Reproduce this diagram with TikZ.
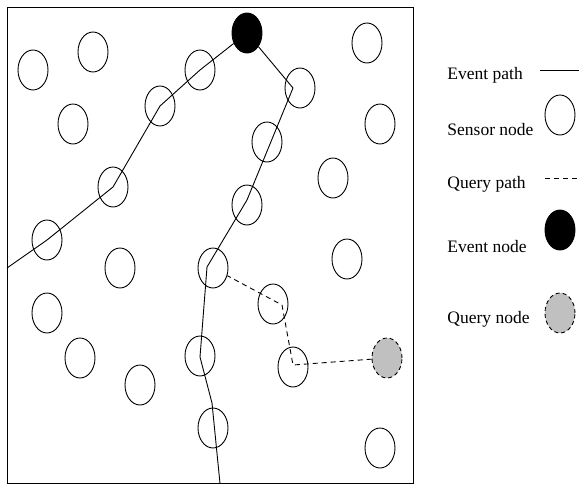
\documentclass[tikz,border=0pt]{standalone}
\usepackage{fontspec}
\setmainfont{Liberation Serif}
\usetikzlibrary{shapes.geometric}
\begin{document}
\begin{tikzpicture}[x=1pt,y=-1pt,line width=0.9pt,
  sensor/.style={ellipse,draw,minimum width=30pt,minimum height=40pt,inner sep=0pt},
  eventnode/.style={sensor,fill=black},
  querynode/.style={sensor,fill={rgb,255:red,192;green,192;blue,192},dash pattern=on 4pt off 3pt},
  epath/.style={draw,line width=0.9pt},
  qpath/.style={draw,dash pattern=on 5pt off 4pt},
  lbl/.style={anchor=base west,inner sep=0pt,font=\fontsize{17.5}{20}\selectfont}]
\useasboundingbox (0,0) rectangle (579,485);
\draw (7,7) rectangle (413,483.5);
% sensor nodes
\node[sensor] (s1) at (33,70) {};
\node[sensor] (s2) at (93,52) {};
\node[sensor] (s3) at (73,124) {};
\node[sensor] (s4) at (200,70) {};
\node[sensor] (s5) at (160,106) {};
\node[sensor] (s6) at (113,187) {};
\node[sensor] (s7) at (47,240) {};
\node[sensor] (s8) at (300,88) {};
\node[sensor] (s9) at (367,43) {};
\node[sensor] (s10) at (380,124) {};
\node[sensor] (s11) at (267,142) {};
\node[sensor] (s12) at (333,178) {};
\node[sensor] (s13) at (247,205) {};
\node[sensor] (s14) at (120,268) {};
\node[sensor] (s15) at (213,268) {};
\node[sensor] (s16) at (347,259) {};
\node[sensor] (s17) at (47,313) {};
\node[sensor] (s18) at (273,304) {};
\node[sensor] (s19) at (80,358) {};
\node[sensor] (s20) at (140,385) {};
\node[sensor] (s21) at (200,356) {};
\node[sensor] (s22) at (293,367) {};
\node[sensor] (s23) at (213,428) {};
\node[sensor] (s24) at (380,448) {};
\node[eventnode] (ev) at (247,33) {};
\node[querynode] (q) at (387,358) {};
% path bend points
\coordinate (a1) at (7,268);
\coordinate (b1) at (293,88);
\coordinate (b2) at (247,200);
\coordinate (b3) at (207,267);
\coordinate (b4) at (200,357);
\coordinate (b5) at (212,403);
\coordinate (b6) at (220,483.5);
\coordinate (c1) at (282,305);
\coordinate (c2) at (293,365);
% event paths
\draw[epath] (ev) -- (s4.center) -- (s5.center) -- (s6.center) -- (s7.center) -- (a1);
\draw[epath] (ev) -- (b1) -- (b2) -- (b3) -- (b4) -- (b5) -- (b6);
% query path
\draw[qpath] (q) -- (c2) -- (c1) -- (s15);
% legend
\node[lbl] (t1) at (447,79) {Event path};
\node[lbl] (t2) at (447,135) {Sensor node};
\node[lbl] (t3) at (447,188) {Query path};
\node[lbl] (t4) at (447,252) {Event node};
\node[lbl] (t5) at (447,323) {Query node};
\coordinate (l1a) at (540,70);
\coordinate (l1b) at (579,70);
\coordinate (l3a) at (545,178);
\coordinate (l3b) at (579,178);
\draw[epath] (l1a) -- (l1b);
\draw[qpath] (l3a) -- (l3b);
\node[sensor] (k2) at (560,115) {};
\node[eventnode] (k4) at (560,230) {};
\node[querynode] (k5) at (560,313) {};
\end{tikzpicture}
\end{document}
